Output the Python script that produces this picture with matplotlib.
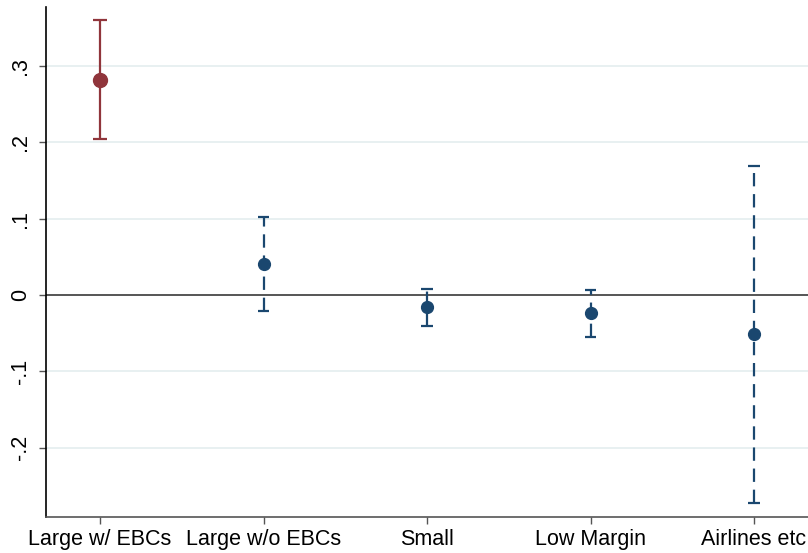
import matplotlib
matplotlib.use("Agg")
import matplotlib.pyplot as plt
import numpy as np

plt.rcParams['font.family'] = ['Liberation Sans', 'DejaVu Sans']

categories = ["Large w/ EBCs", "Large w/o EBCs", "Small", "Low Margin", "Airlines etc"]
coef = [0.282, 0.041, -0.016, -0.024, -0.051]
ci_low = [0.204, -0.021, -0.041, -0.055, -0.273]
ci_high = [0.360, 0.102, 0.008, 0.007, 0.169]

red = "#90353b"
blue = "#1a476f"

fig = plt.figure(figsize=(8.08, 5.53), dpi=100)
ax = fig.add_axes([0.057, 0.065, 0.943, 0.922])

x = np.arange(len(categories))
for i in range(len(categories)):
    col = red if i == 0 else blue
    ls = "-" if i == 0 else (0, (6, 3.5))
    ax.vlines(x[i], ci_low[i], ci_high[i], color=col, lw=1.6, linestyles=ls, zorder=3)
    cw = 0.04 if i == 0 else 0.035
    ax.hlines([ci_low[i], ci_high[i]], x[i] - cw, x[i] + cw, color=col, lw=1.6, zorder=3)
    ax.plot(x[i], coef[i], "o", color=col, ms=10 if i == 0 else 8.5, zorder=4)

ax.axhline(0, color="#555555", lw=1.4, zorder=2)
for v in [-0.2, -0.1, 0.1, 0.2, 0.3]:
    ax.axhline(v, color="#e6eff0", lw=1.3, zorder=1)

ax.set_xlim(-0.33, 4.33)
ax.set_ylim(-0.291, 0.377)
ax.set_xticks(x)
ax.set_xticklabels(categories, fontsize=15.5)
ax.set_yticks([-0.2, -0.1, 0, 0.1, 0.2, 0.3])
ax.set_yticklabels(["-.2", "-.1", "0", ".1", ".2", ".3"], fontsize=15.5, rotation=90, va="center")
ax.tick_params(axis="both", length=5, width=1, color="#555555")
ax.tick_params(axis="y", pad=6)
ax.spines["top"].set_visible(False)
ax.spines["right"].set_visible(False)
ax.spines["left"].set_color("black")
ax.spines["bottom"].set_color("#555555")
ax.spines["left"].set_linewidth(1.2)
ax.spines["bottom"].set_linewidth(1.2)

fig.savefig("out.png", dpi=100)
